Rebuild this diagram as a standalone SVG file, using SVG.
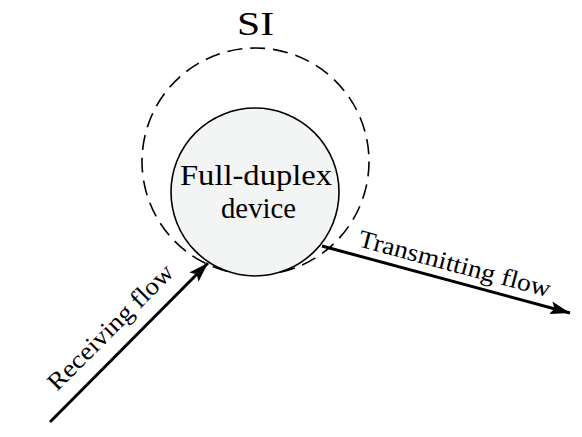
<svg xmlns="http://www.w3.org/2000/svg" width="582" height="437" viewBox="0 0 582 437">
  <style>
    text { font-family: 'Liberation Serif', 'Times New Roman', serif; fill: #000; }
    .flow { stroke: #000; stroke-width: 3; fill: none; }
    .lbl { font-size: 25px; }
  </style>
  <defs>
    <marker id="arrow" markerUnits="userSpaceOnUse" markerWidth="22" markerHeight="16" refX="20" refY="8" orient="auto">
      <path d="M0,1.5 L20,8 L0,14.5 L4,8 Z" fill="#000"/>
    </marker>
  </defs>
  <rect width="582" height="437" fill="#fff"/>
  <g id="si">
    <circle cx="255.5" cy="161.5" r="113.5" fill="none" stroke="#000" stroke-width="1.6" stroke-dasharray="15 8"/>
    <text x="255.5" y="35" font-size="33" text-anchor="middle" textLength="37" lengthAdjust="spacingAndGlyphs">SI</text>
  </g>
  <g id="device">
    <circle cx="255" cy="192" r="84" fill="#f3f4f4" stroke="#000" stroke-width="1.6"/>
    <text x="256" y="185" font-size="29" text-anchor="middle" textLength="152" lengthAdjust="spacingAndGlyphs">Full-duplex</text>
    <text x="258.5" y="218" font-size="29" text-anchor="middle" textLength="75" lengthAdjust="spacingAndGlyphs">device</text>
  </g>
  <g id="connectors">
    <line class="flow" x1="50" y1="422" x2="208" y2="263" marker-end="url(#arrow)"/>
    <line class="flow" x1="322" y1="246" x2="570" y2="313" marker-end="url(#arrow)"/>
    <text class="lbl" transform="translate(57,392) rotate(-45)" textLength="167" lengthAdjust="spacingAndGlyphs">Receiving flow</text>
    <text class="lbl" transform="translate(357,246) rotate(15)" textLength="198" lengthAdjust="spacingAndGlyphs">Transmitting flow</text>
  </g>
</svg>
